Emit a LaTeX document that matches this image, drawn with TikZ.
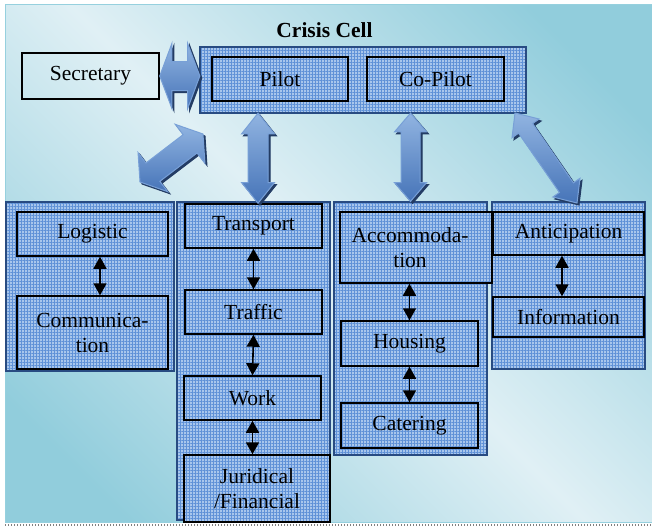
\documentclass[tikz,border=0pt]{standalone}
\usepackage{fontspec}
\setmainfont{Liberation Serif}
\usetikzlibrary{shapes.arrows,patterns.meta,calc,arrows.meta}
\definecolor{bgdark}{RGB}{145,205,220}
\definecolor{bglight}{RGB}{224,240,245}
\definecolor{bgedge}{RGB}{150,208,222}
\definecolor{boxfill}{RGB}{168,198,236}
\definecolor{gridc}{RGB}{95,145,215}
\definecolor{contdraw}{RGB}{40,75,130}
\definecolor{arrlight}{RGB}{145,180,225}
\definecolor{arrdark}{RGB}{70,116,184}
\definecolor{arredge}{RGB}{120,160,215}
\definecolor{arrshadow}{RGB}{35,60,100}
\pgfdeclarehorizontalshading{bgshade}{100bp}{color(0bp)=(bgdark); color(22bp)=(bgdark); color(50bp)=(bglight); color(78bp)=(bgdark); color(100bp)=(bgdark)}
\newcommand\boxfont{\fontsize{21.5}{25}\selectfont}
% box from corners: style, name, x1, y1, x2, y2, text
\newcommand\bx[7]{%
  \node[#1, minimum width={#5-#3}, minimum height={#6-#4}] (#2) at ({(#3+#5)/2},{(#4+#6)/2}) {#7};%
}
\newcommand\fatarrow[5]{%
  \path let \p1=(#1), \p2=(#2), \n1={atan2(\y2-\y1,\x2-\x1)}, \n2={veclen(\x2-\x1,\y2-\y1)} in
    node[fatshadow, inner ysep=#3, double arrow head extend=#4, double arrow tip angle=#5, minimum height=\n2, rotate=\n1] at ($(\p1)!0.5!(\p2)+(2,2)$) {}
    node[fatbody, inner ysep=#3, double arrow head extend=#4, double arrow tip angle=#5, minimum height=\n2, rotate=\n1] at ($(\p1)!0.5!(\p2)$) {};%
}
\begin{document}
\begin{tikzpicture}[x=1pt,y=-1pt,
  cont/.style={draw=contdraw, line width=1.2pt, preaction={fill=boxfill},
    pattern={Hatch[angle=0,distance=3pt,line width=0.35pt]}, pattern color=gridc, inner sep=0pt},
  inbox/.style={draw=black, line width=1.5pt, preaction={fill=boxfill},
    pattern={Hatch[angle=0,distance=3pt,line width=0.35pt]}, pattern color=gridc,
    inner sep=0pt, font=\boxfont, align=center},
  secbox/.style={draw=black, line width=1.5pt, inner sep=0pt, font=\boxfont},
  barrow/.style={{Triangle[length=12pt,width=13pt]}-{Triangle[length=12pt,width=13pt]}, line width=1.6pt},
  fatgeom/.style={double arrow, inner xsep=0pt, minimum width=0pt},
  fatbody/.style={fatgeom, draw=arredge, line width=1pt, top color=arrlight, bottom color=arrdark},
  fatshadow/.style={fatgeom, fill=arrshadow, draw=arrshadow, line width=1pt},
]
\useasboundingbox (0,0) rectangle (652,527);
\path[draw=bgedge, line width=1pt, shading=bgshade, shading angle=45] (5,5) rectangle (652,522);
\draw[gray, line width=1.5pt, dash pattern=on 1pt off 2pt] (5,525) -- (652,525);

\node[font=\bfseries\boxfont] (title) at (324.5,30) {Crisis Cell};

% top
\bx{cont}{top}{200}{47}{526}{113}{}
\bx{inbox}{pilot}{212}{57}{348}{101}{Pilot}
\bx{inbox}{copilot}{367}{57}{504}{101}{Co-Pilot}
\bx{secbox}{sec}{22}{53}{159}{99}{Secretary}

% columns
\bx{cont}{col1}{6}{202}{174}{371}{}
\bx{cont}{col2}{177}{202}{330}{520}{}
\bx{cont}{col3}{334}{202}{487}{455}{}
\bx{cont}{col4}{492}{202}{645}{369}{}

\bx{inbox}{logistic}{17}{212}{168}{256}{Logistic}
\bx{inbox}{comm}{17}{296}{168}{369}{Communica-\\tion}

\bx{inbox}{transport}{185}{204}{322}{248}{Transport}
\bx{inbox}{traffic}{185}{290}{322}{334}{Traffic}
\bx{inbox}{work}{184}{376}{321}{420}{Work}
\bx{inbox}{jur}{184}{455}{330}{522}{Juridical\\/Financial}

\bx{inbox}{accom}{340}{212}{492}{283}{\hspace*{-12pt}Accommoda-\\\hspace*{-12pt}tion}
\bx{inbox}{housing}{341}{321}{478}{366}{Housing}
\bx{inbox}{catering}{341}{403}{478}{448}{Catering}

\bx{inbox}{antic}{493}{212}{644}{255}{Anticipation}
\bx{inbox}{info}{493}{297}{644}{337}{Information}

% small arrows
\draw[barrow] ([xshift=7.5pt]logistic.south) -- ([xshift=7.5pt]comm.north);
\draw[barrow] (transport.south) -- (traffic.north);
\draw[barrow] (traffic.south) -- (work.north);
\draw[barrow] (work.south) -- (work.south |- jur.north);
\draw[barrow] (housing.north |- accom.south) -- (housing.north);
\draw[barrow] (housing.south) -- (catering.north);
\draw[barrow] ([xshift=-6.5pt]antic.south) -- ([xshift=-6.5pt]info.north);

% fat arrows
\coordinate (p2b) at ([xshift=4.5pt]transport.north);
\coordinate (d4a) at (203,134);
\coordinate (d4b) at (140,182);
\coordinate (d5a) at (515,113);
\coordinate (d5b) at (577,203);
\fatarrow{sec.east}{top.west |- sec.east}{14}{18}{139}
\fatarrow{p2b |- top.south}{p2b}{9.5}{6.5}{77}
\fatarrow{col3.north |- top.south}{col3.north}{9}{6.5}{81}
\fatarrow{d4b}{d4a}{11}{13}{113}
\fatarrow{d5a}{d5b}{8}{8}{83}
\end{tikzpicture}
\end{document}
